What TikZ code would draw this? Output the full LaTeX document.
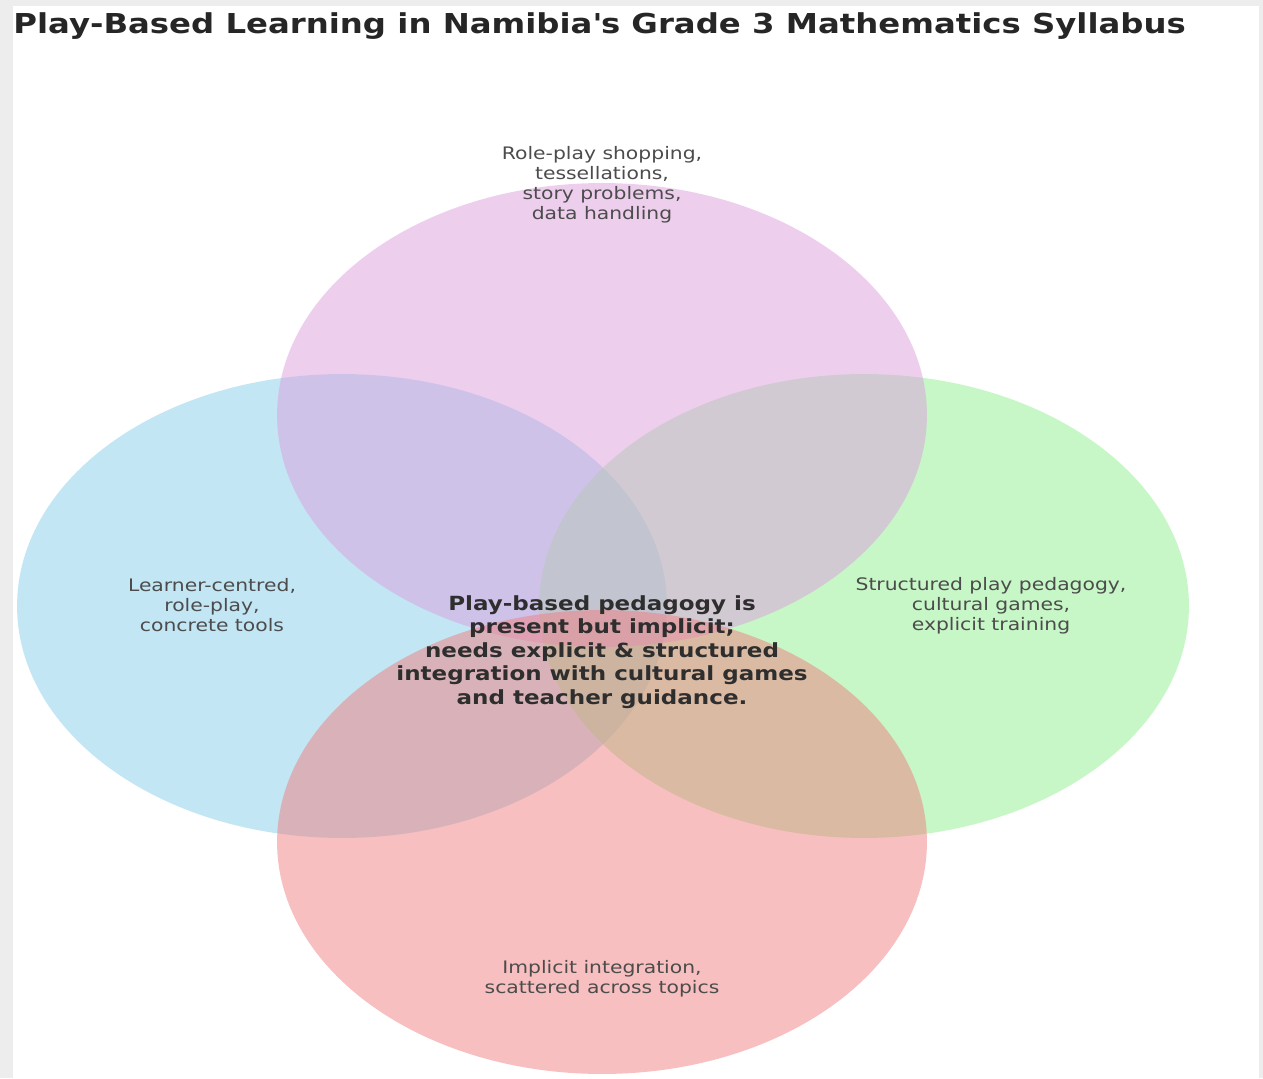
\documentclass[tikz,border=0pt]{standalone}
\usepackage{fontspec}
\setmainfont{DejaVu Sans}[FakeStretch=1.18]
\usetikzlibrary{shapes.geometric,positioning}

\definecolor{setblue}{HTML}{87CEEB}
\definecolor{setplum}{HTML}{DDA0DD}
\definecolor{setgreen}{HTML}{90EE90}
\definecolor{setcoral}{HTML}{F08080}

\begin{document}
\begin{tikzpicture}[x=0.02cm, y=-0.02cm,
    setshape/.style={ellipse, minimum width=13cm, minimum height=9.28cm,
        inner sep=0pt, draw=none, fill opacity=0.5},
    setlabel/.style={align=center, text=black!70,
        font=\fontsize{9.8}{11.4}\selectfont},
  ]
  \useasboundingbox (0,0) rectangle (1263,1078);

  % page frame
  \fill[black!7] (0,0) rectangle (1263,1078);
  \fill[white] (13,6) rectangle (1259,1078);

  % title
  \node[anchor=base west, inner sep=0pt, text=black!85,
      font=\bfseries\fontsize{15.6}{18}\selectfont] (title) at (13,34)
      {Play-Based Learning in Namibia\textquotesingle s Grade 3 Mathematics Syllabus};

  % four overlapping sets
  \node[setshape, fill=setblue] (learner) at (342,606) {};
  \node[setshape, fill=setgreen] (structured) at (864,606) {};
  \node[setshape, fill=setplum] (activities) at (602,415) {};
  \node[setshape, fill=setcoral] (implicit) at (602,842) {};

  % set labels
  \node[setlabel] (activitiestext) at (602,185)
      {Role-play shopping,\\tessellations,\\story problems,\\data handling};
  \node[setlabel] (learnertext) at (212,605)
      {Learner-centred,\\role-play,\\concrete tools};
  \node[setlabel] (structuredtext) at (991,606)
      {Structured play pedagogy,\\cultural games,\\explicit training};
  \node[setlabel] (implicittext) at (602,979)
      {Implicit integration,\\scattered across topics};

  % overlap in the middle
  \node[align=center, text=black!82,
      font=\bfseries\fontsize{11.1}{13.4}\selectfont] (summary) at (602,652)
      {Play-based pedagogy is\\present but implicit;\\needs explicit \& structured\\integration with cultural games\\and teacher guidance.};
\end{tikzpicture}
\end{document}
